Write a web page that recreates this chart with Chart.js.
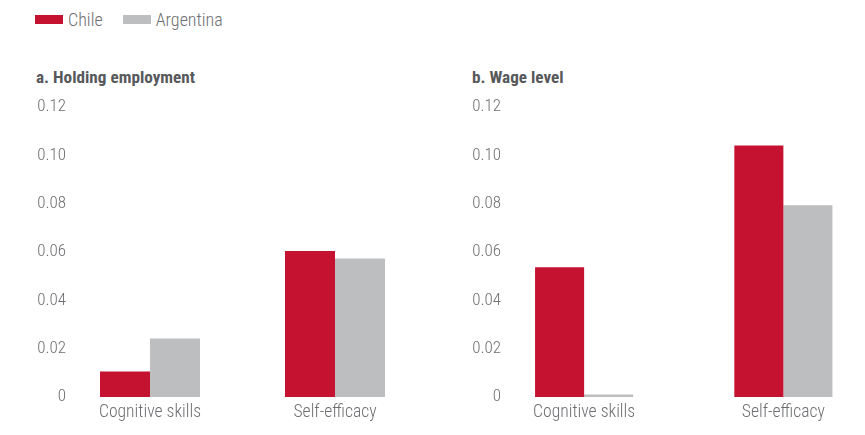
<!DOCTYPE html>
<html>
<head>
<meta charset="utf-8">
<script src="https://cdn.jsdelivr.net/npm/chart.js@4/dist/chart.umd.min.js"></script>
<style>
  html, body { margin:0; padding:0; background:#fff; overflow:hidden; }
  #wrap { position:relative; width:865px; height:435px; overflow:hidden; font-family:"Roboto Condensed",sans-serif; }
  .legend { position:absolute; top:9px; left:35px; display:flex; align-items:center; font-size:18px; font-weight:300; color:#6d6e71; }
  .legend .item { display:flex; align-items:center; margin-right:20px; }
  .legend .sw { width:28px; height:9px; margin-right:5px; }
  .ptitle { position:absolute; top:67px; font-size:17.2px; font-weight:bold; color:#58595b; }
  canvas { position:absolute; top:0; }
</style>
</head>
<body>
<div id="wrap">
  <div class="legend" id="legend"></div>
  <div class="ptitle" id="titleA" style="left:36px"></div>
  <div class="ptitle" id="titleB" style="left:472px"></div>
  <div style="position:absolute;left:0;top:0;width:440px;height:435px"><canvas id="c1"></canvas></div>
  <div style="position:absolute;left:440px;top:0;width:443px;height:435px"><canvas id="c2"></canvas></div>
</div>
<script>
const categories = ['Cognitive skills', 'Self-efficacy'];
const seriesNames = ['Chile', 'Argentina'];
const seriesColors = ['#c41230', '#bcbec0'];
const panelTitles = ['a. Holding employment', 'b. Wage level'];
const holdingChile = [0.0106, 0.0604];
const holdingArgentina = [0.0242, 0.0573];
const wageChile = [0.0537, 0.1041];
const wageArgentina = [0.001, 0.0793];
const yTickLabels = ['0', '0.02', '0.04', '0.06', '0.08', '0.10', '0.12'];

// HTML legend & titles
const lg = document.getElementById('legend');
seriesNames.forEach((n, i) => {
  const it = document.createElement('div'); it.className = 'item';
  const sw = document.createElement('div'); sw.className = 'sw'; sw.style.background = seriesColors[i];
  const tx = document.createElement('span'); tx.textContent = n;
  it.appendChild(sw); it.appendChild(tx); lg.appendChild(it);
});
document.getElementById('titleA').textContent = panelTitles[0];
document.getElementById('titleB').textContent = panelTitles[1];

const FONT = "'Roboto Condensed', sans-serif";
const TEXT = '#6d6e71';
const Y_FONT = { family: FONT, size: 17, weight: '300' };
const X_FONT = { family: FONT, size: 17.6, weight: '300' };

// widest y label width, to right-align labels at a target x
const mctx = document.createElement('canvas').getContext('2d');
mctx.font = `300 ${Y_FONT.size}px ${FONT}`;
const widest = Math.max(...yTickLabels.map(t => mctx.measureText(t).width));

function makeChart(id, dataA, dataB, yWidth, labelRight, catPct, padRight) {
  return new Chart(document.getElementById(id), {
    type: 'bar',
    data: {
      labels: categories,
      datasets: [
        { label: seriesNames[0], data: dataA, backgroundColor: seriesColors[0], barPercentage: 1, categoryPercentage: catPct },
        { label: seriesNames[1], data: dataB, backgroundColor: seriesColors[1], barPercentage: 1, categoryPercentage: catPct }
      ]
    },
    options: {
      responsive: true,
      maintainAspectRatio: false,
      animation: false,
      layout: { padding: { top: 107, left: 0, right: padRight, bottom: 0 } },
      plugins: { legend: { display: false }, tooltip: { enabled: false } },
      scales: {
        x: {
          grid: { display: false, drawTicks: false },
          border: { display: false },
          ticks: { color: TEXT, font: X_FONT, padding: 5, maxRotation: 0 },
          afterFit: s => { s.height = 38; }
        },
        y: {
          min: 0, max: 0.12,
          grid: { display: false, drawTicks: false },
          border: { display: false },
          ticks: {
            stepSize: 0.02, color: TEXT, font: Y_FONT,
            mirror: true, crossAlign: 'far',
            padding: labelRight - yWidth - widest,
            callback: (v) => yTickLabels[Math.round(v / 0.02)]
          },
          afterFit: s => { s.width = yWidth; }
        }
      }
    }
  });
}

makeChart('c1', holdingChile, holdingArgentina, 57.5, 66, 100 / 185, 12.5);
makeChart('c2', wageChile, wageArgentina, 44.5, 61, 98 / 199, 0);
</script>
</body>
</html>
